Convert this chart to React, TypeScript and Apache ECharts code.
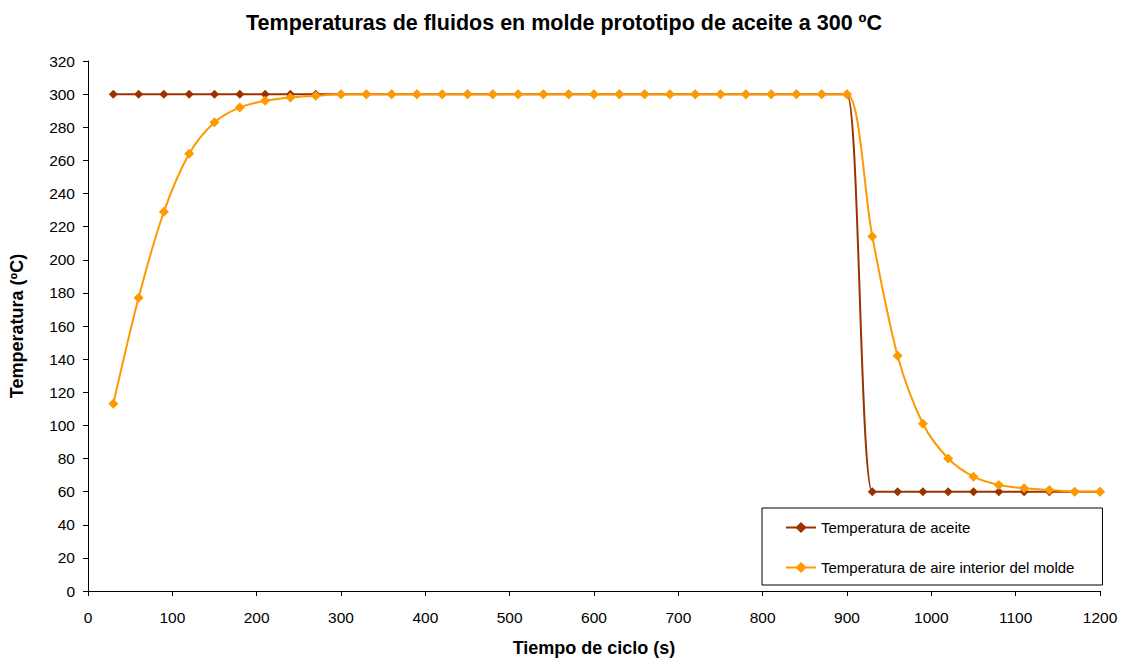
import React, { useEffect, useRef } from "react";
import * as echarts from "echarts";

const times = [30,60,90,120,150,180,210,240,270,300,330,360,390,420,450,480,510,540,570,600,630,660,690,720,750,780,810,840,870,900,930,960,990,1020,1050,1080,1110,1140,1170,1200];
const oilTemp = [300,300,300,300,300,300,300,300,300,300,300,300,300,300,300,300,300,300,300,300,300,300,300,300,300,300,300,300,300,300,60,60,60,60,60,60,60,60,60,60];
const airTemp = [113,177,229,264,283,292,296,298,299,300,300,300,300,300,300,300,300,300,300,300,300,300,300,300,300,300,300,300,300,300,214,142,101,80,69,64,62,61,60,60];
const seriesNames = ["Temperatura de aceite", "Temperatura de aire interior del molde"];
const titleText = "Temperaturas de fluidos en molde prototipo de aceite a 300 ºC";
const xName = "Tiempo de ciclo (s)";
const yName = "Temperatura (ºC)";

export default function App() {
  const ref = useRef<HTMLDivElement>(null);
  useEffect(() => {
    const chart = echarts.init(ref.current!, null, { renderer: "svg" });
    const font = "'Liberation Sans', Arial, sans-serif";
    chart.setOption({
      animation: false,
      textStyle: { fontFamily: font },
      title: {
        text: titleText,
        left: "center",
        top: 7,
        textStyle: { fontSize: 21.5, fontWeight: "bold", color: "#000", fontFamily: font },
      },
      grid: { left: 88, right: 28, top: 61, bottom: 68 },
      legend: {
        orient: "vertical",
        left: 762,
        top: 508,
        padding: [12, 28, 10, 23],
        itemGap: 25,
        itemWidth: 30,
        itemHeight: 14,
        borderColor: "#000",
        borderWidth: 1,
        textStyle: { fontSize: 15, color: "#000", fontFamily: font },
        data: seriesNames,
      },
      xAxis: {
        type: "value",
        min: 0,
        max: 1200,
        interval: 100,
        name: xName,
        nameLocation: "middle",
        nameGap: 48,
        nameTextStyle: { fontSize: 18, fontWeight: "bold", color: "#000" },
        axisLine: { lineStyle: { color: "#000" } },
        axisTick: { inside: false, length: 5, lineStyle: { color: "#000" } },
        axisLabel: { fontSize: 15.5, color: "#000", margin: 18, formatter: (v: number) => String(v) },
        splitLine: { show: false },
      },
      yAxis: {
        type: "value",
        min: 0,
        max: 320,
        interval: 20,
        name: yName,
        nameLocation: "middle",
        nameGap: 62,
        nameTextStyle: { fontSize: 18, fontWeight: "bold", color: "#000" },
        axisLine: { show: true, lineStyle: { color: "#000" } },
        axisTick: { show: true, length: 5, lineStyle: { color: "#000" } },
        axisLabel: { fontSize: 15.5, color: "#000", margin: 13, formatter: (v: number) => String(v) },
        splitLine: { show: false },
      },
      series: [
        {
          name: seriesNames[0],
          type: "line",
          data: times.map((t, i) => [t, oilTemp[i]]),
          smooth: 0.25,
          symbol: "diamond",
          symbolSize: 9,
          itemStyle: { color: "#993300" },
          lineStyle: { color: "#993300", width: 2 },
          z: 2,
        },
        {
          name: seriesNames[1],
          type: "line",
          data: times.map((t, i) => [t, airTemp[i]]),
          smooth: 0.3,
          symbol: "diamond",
          symbolSize: 10,
          itemStyle: { color: "#FF9900" },
          lineStyle: { color: "#FF9900", width: 2 },
          z: 3,
        },
      ],
    });
    return () => chart.dispose();
  }, []);
  return (
    <div
      ref={ref}
      style={{ position: "fixed", left: 0, top: 0, width: 1128, height: 662, background: "#fff" }}
    />
  );
}
